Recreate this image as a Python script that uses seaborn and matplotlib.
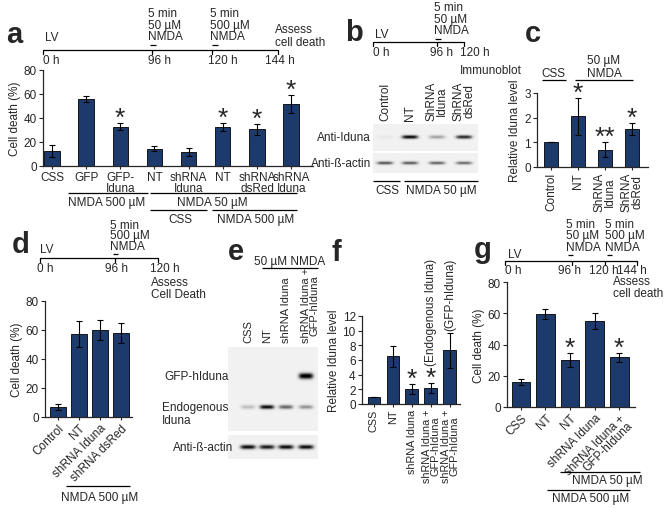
import numpy as np
import matplotlib
matplotlib.use("Agg")
import matplotlib.pyplot as plt
import seaborn as sns

W, H = 664, 510
NAVY = "#1d3a6d"

# ---- data ----
a_labels = ["CSS", "GFP", "GFP-\nIduna", "NT", "shRNA\nIduna", "NT", "shRNA\ndsRed", "shRNA\nIduna"]
a_values = [12.5, 55.7, 32.6, 14.5, 12.0, 32.6, 30.6, 51.5]
a_err = [5.0, 2.3, 3.0, 2.2, 3.3, 3.4, 4.8, 7.5]
a_stars = ["", "", "*", "", "", "*", "*", "*"]

b_lanes = ["Control", "NT", "ShRNA\nIduna", "ShRNA\ndsRed"]
b_iduna = [0.06, 0.85, 0.35, 0.75]
b_actin = [0.60, 0.58, 0.55, 0.52]

c_labels = ["Control", "NT", "ShRNA\nIduna", "ShRNA\ndsRed"]
c_values = [1.0, 2.05, 0.7, 1.55]
c_err = [0.0, 0.75, 0.3, 0.25]
c_stars = ["", "*", "**", "*"]

d_labels = ["Control", "NT", "shRNA Iduna", "shRNA dsRed"]
d_values = [7.0, 57.0, 60.0, 58.0]
d_err = [2.0, 9.0, 7.0, 7.0]

e_lanes = ["CSS", "NT", "shRNA Iduna", "shRNA Iduna +\nGFP-hIduna"]
e_gfp = [0.0, 0.0, 0.0, 0.95]
e_endo = [0.25, 0.85, 0.55, 0.40]
e_actin = [0.85, 0.80, 0.85, 0.85]

f_labels = ["CSS", "NT", "shRNA Iduna", "shRNA Iduna +\nGFP-hIduna", "shRNA Iduna +\nGFP-hIduna"]
f_values = [1.0, 6.5, 2.05, 2.2, 7.3]
f_err = [0.0, 1.4, 0.65, 0.65, 2.4]
f_stars = ["", "", "*", "*", ""]

g_labels = ["CSS", "NT", "NT", "shRNA Iduna", "shRNA Iduna +\nGFP-hIduna"]
g_values = [16.0, 59.4, 30.1, 54.8, 31.8]
g_err = [2.0, 3.2, 4.5, 5.1, 2.8]
g_stars = ["", "", "*", "", "*"]

sns.set_theme(style="ticks")
plt.rcParams["font.family"] = ["Liberation Sans", "DejaVu Sans"]
plt.rcParams["font.size"] = 8.5
plt.rcParams["axes.labelsize"] = 8.5
plt.rcParams["xtick.labelsize"] = 8.5
plt.rcParams["ytick.labelsize"] = 8.5
plt.rcParams["axes.linewidth"] = 0.9

fig = plt.figure(figsize=(W / 100, H / 100), dpi=100)


def px_axes(left, top, right, bottom):
    ax = fig.add_axes([left / W, 1 - bottom / H, (right - left) / W, (bottom - top) / H])
    ax.patch.set_alpha(0)
    return ax


def bar_panel(ax, labels, values, err, stars, ylim, yticks, xlim, width, ylabel, rot=0, xfs=8.5):
    n = len(values)
    sns.barplot(x=np.arange(n), y=values, color=NAVY, width=width, saturation=1,
                edgecolor="black", linewidth=0.6, errorbar=None, ax=ax)
    ax.errorbar(np.arange(n), values, yerr=err, fmt="none", ecolor="black",
                elinewidth=0.8, capsize=2, capthick=0.8)
    for i, s in enumerate(stars):
        if s:
            ax.annotate(s, (i, values[i] + err[i]), xytext=(0, -5), textcoords="offset points",
                        ha="center", va="bottom", fontsize=19)
    ax.set_xlim(*xlim)
    ax.set_ylim(*ylim)
    ax.set_yticks(yticks)
    ax.set_xticks(np.arange(n))
    if rot == 0:
        ax.set_xticklabels(labels, linespacing=0.85, fontsize=xfs)
    elif rot == 90:
        ax.set_xticklabels(labels, rotation=90, ha="center", va="top", linespacing=0.8, fontsize=xfs)
    else:
        ax.set_xticklabels(labels, rotation=rot, ha="right", rotation_mode="anchor",
                           linespacing=0.85, fontsize=xfs)
    ax.set_ylabel(ylabel, labelpad=2, fontsize=8.5)
    ax.set_xlabel("")
    ax.tick_params(length=3, width=0.8, pad=1.5)
    ax.tick_params(axis="x", length=2)
    sns.despine(ax=ax)


# bar panels
ax_a = px_axes(43, 71, 313, 167)
bar_panel(ax_a, a_labels, a_values, a_err, a_stars, (0, 80), [0, 20, 40, 60, 80],
          (-0.26, 7.64), 0.45, "Cell death (%)")

ax_c = px_axes(537, 94, 648, 168)
bar_panel(ax_c, c_labels, c_values, c_err, c_stars, (0, 3), [0, 1, 2, 3],
          (-0.52, 3.59), 0.5, "Relative Iduna level", rot=90)

ax_d = px_axes(45, 302, 132, 418)
bar_panel(ax_d, d_labels, d_values, d_err, [""] * 4, (0, 80), [0, 20, 40, 60, 80],
          (-0.62, 3.52), 0.8, "Cell death (%)", rot=45)

ax_f = px_axes(362, 317, 460, 405)
bar_panel(ax_f, f_labels, f_values, f_err, f_stars, (0, 12), [0, 2, 4, 6, 8, 10, 12],
          (-0.63, 4.53), 0.68, "Relative Iduna level", rot=90, xfs=7.8)

ax_g = px_axes(507, 283, 635, 408)
bar_panel(ax_g, g_labels, g_values, g_err, g_stars, (0, 80), [0, 20, 40, 60, 80],
          (-0.57, 4.65), 0.77, "Cell death (%)", rot=45)

# overlay in pixel coordinates for annotations and blots
ov = fig.add_axes([0, 0, 1, 1])
ov.patch.set_alpha(0)
ov.axis("off")


def txt(x, y, s, ha="left", va="center", **kw):
    ov.text(x, y, s, ha=ha, va=va, **kw)


def hline(x0, x1, y, lw=0.9):
    ov.plot([x0, x1], [y, y], color="black", lw=lw, solid_capstyle="butt")


def letter(x, y, s):
    txt(x, y, s, fontsize=21, fontweight="bold")


def timeline(x0, x1, y, ticks):
    hline(x0, x1, y)
    for t in ticks:
        ov.plot([t, t], [y, y + 4], color="black", lw=0.9)


def blot(left, top, right, bottom, lane_x, rows):
    xs = np.arange(left, right) + 0.5
    ys = np.arange(top, bottom) + 0.5
    X, Y = np.meshgrid(xs, ys)
    img = np.full(X.shape, 0.11)
    for yc, intens, hh, hw in rows:
        for lx, v in zip(lane_x, intens):
            img += v * np.exp(-((X - lx) / hw) ** 4) * np.exp(-((Y - yc) / hh) ** 2)
    ov.imshow(np.clip(img, 0, 1), extent=(left, right, bottom, top), cmap="Greys",
              vmin=0, vmax=1, aspect="auto", interpolation="bilinear")


# panel a
letter(6, 35, "a")
timeline(43, 278, 51, [43, 152, 212, 278])
txt(45, 38, "LV")
for x, s in [(43, "0 h"), (148, "96 h"), (208, "120 h"), (265, "144 h")]:
    txt(x, 61, s)
for x, lines in [(148, ["5 min", "50 µM", "NMDA"]), (210, ["5 min", "500 µM", "NMDA"])]:
    for k, s in enumerate(lines):
        txt(x, 14 + 11.5 * k, s)
    hline(x + 2, x + 8, 46)
txt(275, 30, "Assess")
txt(275, 43, "cell death")
hline(68, 148, 194)
txt(107, 203, "NMDA 500 µM", ha="center")
hline(150, 297, 194)
txt(212, 203, "NMDA 50 µM", ha="center")
hline(150, 207, 211)
txt(180, 220, "CSS", ha="center")
hline(212, 297, 211)
txt(256, 220, "NMDA 500 µM", ha="center")

# panel b
letter(345, 33, "b")
timeline(373, 464, 43, [373, 437, 464])
txt(375, 35, "LV")
for x, s in [(373, "0 h"), (430, "96 h"), (460, "120 h")]:
    txt(x, 53, s)
for k, s in enumerate(["5 min", "50 µM", "NMDA"]):
    txt(434, 8 + 11.5 * k, s)
hline(435, 441, 40)
txt(460, 71, "Immunoblot")
b_x = [385, 410, 437, 464]
for x, s in zip(b_x, b_lanes):
    txt(x, 121, s, ha="center", va="bottom", rotation=90, linespacing=0.85)
blot(373, 125, 478, 152, b_x, [(138, b_iduna, 2.0, 8.5)])
blot(373, 154, 478, 174, b_x, [(164, b_actin, 1.8, 8.5)])
txt(371, 138, "Anti-Iduna", ha="right")
txt(371, 164, "Anti-ß-actin", ha="right")
hline(373, 400, 182)
txt(387, 191, "CSS", ha="center")
hline(404, 478, 182)
txt(441, 191, "NMDA 50 µM", ha="center")

# panel c
letter(525, 34, "c")
txt(553, 74, "CSS", ha="center")
hline(542, 566, 81)
txt(604, 61, "50 µM", ha="center")
txt(604, 74, "NMDA", ha="center")
hline(575, 633, 81)

# panel d
letter(12, 245, "d")
for k, s in enumerate(["5 min", "500 µM", "NMDA"]):
    txt(110, 226 + 10.5 * k, s)
hline(113, 118, 255)
timeline(40, 158, 259, [40, 115, 158])
txt(40, 250, "LV")
for x, s in [(37, "0 h"), (105, "96 h"), (150, "120 h")]:
    txt(x, 269, s)
txt(151, 283, "Assess")
txt(151, 295, "Cell Death")
hline(66, 130, 487)
txt(100, 498, "NMDA 500 µM", ha="center")

# panel e
letter(228, 252, "e")
txt(290, 262, "50 µM NMDA", ha="center")
hline(262, 318, 269)
e_x = [248, 267, 286, 306]
for x, s in zip(e_x, e_lanes):
    txt(x + (4 if "\n" in s else 0), 343, s, ha="center", va="bottom", rotation=90,
        linespacing=0.85, fontsize=8)
blot(228, 348, 318, 432, e_x, [(377, e_gfp, 3.2, 7.5), (408, e_endo, 2.3, 7.5)])
blot(228, 436, 318, 460, e_x, [(448, e_actin, 2.4, 8)])
txt(164, 377, "GFP-hIduna")
txt(162, 408, "Endogenous")
txt(162, 421, "Iduna")
txt(173, 448, "Anti-ß-actin")

# panel f
letter(331, 253, "f")
txt(431, 259, "(Endogenous Iduna)", ha="center", va="top", rotation=90)
txt(450, 259, "(GFP-hIduna)", ha="center", va="top", rotation=90)

# panel g
letter(474, 250, "g")
for x, lines in [(566, ["5 min", "50 µM", "NMDA"]), (605, ["5 min", "500 µM", "NMDA"])]:
    for k, s in enumerate(lines):
        txt(x, 225 + 11.5 * k, s)
    hline(x + 2, x + 7, 256)
timeline(505, 637, 262, [505, 572, 605, 637])
txt(508, 255, "LV")
for x, s in [(505, "0 h"), (558, "96 h"), (589, "120 h"), (617, "144 h")]:
    txt(x, 271, s)
txt(613, 282, "Assess")
txt(613, 294, "cell death")
hline(560, 640, 473)
txt(607, 481, "NMDA 50 µM", ha="center")
hline(547, 630, 491)
txt(591, 499, "NMDA 500 µM", ha="center")

ov.set_xlim(0, W)
ov.set_ylim(H, 0)

fig.savefig("out.png", dpi=100)
